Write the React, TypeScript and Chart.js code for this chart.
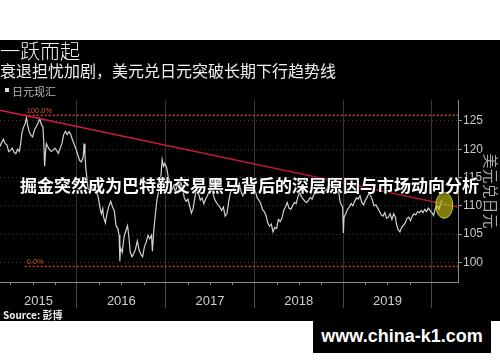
import React, { useEffect, useRef } from 'react';
import { Chart, registerables } from 'chart.js';

Chart.register(...registerables);

// ---- data (decimal year, USD/JPY) ----
const dates = [
  2015.132, 2015.15, 2015.17, 2015.19, 2015.21, 2015.23, 2015.25, 2015.27, 2015.29, 2015.31,
  2015.33, 2015.35, 2015.365, 2015.38, 2015.40, 2015.415, 2015.43, 2015.445, 2015.46, 2015.48,
  2015.50, 2015.52, 2015.54, 2015.56, 2015.58, 2015.60, 2015.615, 2015.625, 2015.635, 2015.645,
  2015.655, 2015.67, 2015.69, 2015.71, 2015.73, 2015.75, 2015.77, 2015.79, 2015.81, 2015.83,
  2015.85, 2015.87, 2015.89, 2015.91, 2015.93, 2015.95, 2015.97, 2015.99,
  2016.01, 2016.03, 2016.05, 2016.07, 2016.08, 2016.09, 2016.10, 2016.115, 2016.125, 2016.14,
  2016.16, 2016.18, 2016.20, 2016.22, 2016.24, 2016.26, 2016.275, 2016.29, 2016.30, 2016.32,
  2016.34, 2016.36, 2016.38, 2016.40, 2016.42, 2016.44, 2016.46, 2016.475, 2016.483, 2016.49,
  2016.51, 2016.53, 2016.55, 2016.57, 2016.585, 2016.60, 2016.62, 2016.64, 2016.66, 2016.68,
  2016.70, 2016.72, 2016.74, 2016.76, 2016.78, 2016.80, 2016.82, 2016.84, 2016.85, 2016.865,
  2016.88, 2016.90, 2016.92, 2016.94, 2016.96, 2016.975, 2016.99,
  2017.01, 2017.03, 2017.05, 2017.07, 2017.09, 2017.11, 2017.13, 2017.15, 2017.17, 2017.19,
  2017.21, 2017.23, 2017.25, 2017.27, 2017.29, 2017.31, 2017.33, 2017.35, 2017.37, 2017.39,
  2017.41, 2017.43, 2017.45, 2017.47, 2017.49, 2017.51, 2017.53, 2017.55, 2017.57, 2017.59,
  2017.61, 2017.63, 2017.65, 2017.67, 2017.69, 2017.71, 2017.73, 2017.75, 2017.77, 2017.79,
  2017.81, 2017.83, 2017.85, 2017.87, 2017.89, 2017.91, 2017.93, 2017.95, 2017.97, 2017.99,
  2018.01, 2018.03, 2018.05, 2018.07, 2018.09, 2018.11, 2018.13, 2018.15, 2018.17, 2018.19,
  2018.21, 2018.23, 2018.25, 2018.27, 2018.29, 2018.31, 2018.33, 2018.35, 2018.37, 2018.39,
  2018.41, 2018.43, 2018.45, 2018.47, 2018.49, 2018.51, 2018.53, 2018.55, 2018.57, 2018.59,
  2018.61, 2018.63, 2018.65, 2018.67, 2018.69, 2018.71, 2018.73, 2018.75, 2018.77, 2018.79,
  2018.81, 2018.83, 2018.85, 2018.87, 2018.89, 2018.91, 2018.93, 2018.95, 2018.965, 2018.98,
  2018.995, 2019.003, 2019.01, 2019.03, 2019.05, 2019.07, 2019.09, 2019.11, 2019.13, 2019.15,
  2019.17, 2019.19, 2019.21, 2019.23, 2019.25, 2019.27, 2019.29, 2019.31, 2019.33, 2019.35,
  2019.37, 2019.39, 2019.41, 2019.43, 2019.45, 2019.47, 2019.49, 2019.51, 2019.53, 2019.55,
  2019.57, 2019.59, 2019.60, 2019.62, 2019.64, 2019.66, 2019.68, 2019.70, 2019.72, 2019.74,
  2019.76, 2019.78, 2019.80, 2019.82, 2019.84, 2019.86, 2019.88, 2019.90, 2019.92, 2019.94,
  2019.96, 2019.98, 2020.00, 2020.02, 2020.04, 2020.06, 2020.08, 2020.10, 2020.11,
];

const usdJpy = [
  120.5, 121.2, 121.8, 121.0, 120.8, 119.6, 119.8, 120.2, 119.5, 119.2,
  120.0, 119.6, 121.0, 123.0, 124.0, 124.5, 125.6, 124.2, 123.2, 122.5,
  122.2, 123.4, 124.0, 124.6, 125.4, 124.3, 124.0, 121.5, 117.0, 119.5,
  121.0, 120.5, 120.0, 119.6, 119.8, 120.2, 119.8, 119.3, 120.2, 121.0,
  122.6, 123.2, 122.6, 123.1, 122.6, 121.6, 120.8, 120.0,
  119.0, 118.0, 117.8, 118.6, 121.0, 119.0, 116.5, 114.5, 113.0, 112.8,
  113.5, 112.8, 113.5, 112.5, 111.5, 109.5, 108.6, 109.5, 108.0, 107.0,
  108.8, 110.0, 110.8, 109.8, 109.2, 106.5, 106.0, 104.8, 100.2, 102.6,
  101.8, 104.5, 105.6, 106.5, 104.5, 101.8, 101.0, 101.6, 102.4, 103.8,
  102.2, 101.4, 101.0, 102.8, 103.6, 104.8, 104.2, 104.8, 102.0, 105.5,
  108.0, 111.0, 112.5, 114.0, 118.2, 117.0, 117.5,
  116.8, 115.0, 114.2, 112.8, 113.6, 112.4, 113.8, 113.0, 114.2, 113.0,
  111.4, 110.8, 111.2, 110.0, 108.7, 109.6, 111.6, 113.4, 112.2, 111.0,
  111.4, 110.4, 111.2, 111.8, 112.6, 113.4, 112.4, 111.2, 110.6, 110.2,
  109.8, 109.2, 109.8, 108.2, 108.6, 110.8, 112.4, 112.8, 113.2, 113.8,
  113.5, 114.0, 112.5, 111.8, 112.6, 112.8, 113.3, 113.0, 112.7, 113.0,
  112.6, 111.5, 111.0, 110.5, 109.4, 109.0, 108.3, 107.0, 106.4, 106.8,
  105.4, 106.2, 106.0, 107.6, 107.2, 107.8, 109.2, 109.8, 110.6, 109.6,
  109.4, 110.0, 110.6, 110.4, 111.6, 112.4, 111.6, 111.2, 110.8, 110.6,
  111.0, 111.5, 111.2, 112.0, 112.4, 113.0, 113.6, 113.8, 112.4, 112.6,
  112.8, 113.4, 113.8, 113.4, 113.6, 113.0, 112.4, 112.6, 110.8, 110.2,
  109.8, 105.2, 108.0, 108.6, 109.4, 109.8, 110.4, 110.0, 110.8, 111.4,
  111.2, 111.8, 110.6, 110.2, 111.0, 111.5, 112.2, 111.8, 111.0, 110.0,
  110.2, 109.6, 109.0, 108.4, 108.2, 108.8, 107.8, 108.0, 108.6, 107.6,
  108.6, 108.0, 106.8, 105.8, 105.4, 106.2, 106.6, 107.0, 107.8, 108.0,
  107.4, 108.2, 108.6, 108.4, 109.0, 108.8, 109.2, 108.8, 109.4, 109.0,
  109.6, 109.2, 108.8, 108.3, 109.6, 110.0, 109.4, 110.4, 111.0,
];

const trendDates = [2015.132, 2020.295];
const trendValues = [126.9, 109.8];

const fibStartDate = 2015.41;
const fibEndDate = 2020.295;
const fibLevels = [126.0, 99.3];
const fibLabels = ['100.0%', '0.0%'];

const yTicks = [100, 105, 110, 115, 120, 125];
const yearBoundaries = [2016, 2017, 2018, 2019, 2020];
const yearLabels = ['2015', '2016', '2017', '2018', '2019'];
const quarterTicks = [
  2015.25, 2015.5, 2015.75, 2016.25, 2016.5, 2016.75, 2017.25, 2017.5, 2017.75,
  2018.25, 2018.5, 2018.75, 2019.25, 2019.5, 2019.75,
];

const highlightDate = 2020.14;
const highlightValue = 110.1;

const X_MIN = 2015.132;
const X_MAX = 2020.295;
const Y_MIN = 96.55;
const Y_MAX = 128.71;

const decorPlugin = {
  id: 'decor',
  afterDatasetsDraw(chart: any) {
    const { ctx, scales } = chart;
    const x = scales.x;
    const y = scales.y;
    ctx.save();
    ctx.font = '7.5px "Liberation Sans", Arial, sans-serif';
    ctx.fillStyle = '#d2552c';
    ctx.textAlign = 'left';
    ctx.textBaseline = 'bottom';
    fibLevels.forEach((lvl, i) => {
      ctx.fillText(fibLabels[i], x.getPixelForValue(fibStartDate) + 2, y.getPixelForValue(lvl) - 1);
    });
    ctx.beginPath();
    ctx.ellipse(x.getPixelForValue(highlightDate), y.getPixelForValue(highlightValue), 8.5, 13, 0, 0, Math.PI * 2);
    ctx.fillStyle = 'rgba(200, 200, 20, 0.62)';
    ctx.fill();
    ctx.strokeStyle = 'rgba(230, 230, 40, 0.85)';
    ctx.lineWidth = 1;
    ctx.stroke();
    ctx.restore();
  },
  afterDraw(chart: any) {
    const { ctx, chartArea, scales } = chart;
    const x = scales.x;
    ctx.save();
    ctx.strokeStyle = '#8a8a8a';
    ctx.lineWidth = 1;
    quarterTicks.forEach((q) => {
      const px = Math.round(x.getPixelForValue(q)) + 0.5;
      ctx.beginPath();
      ctx.moveTo(px, chartArea.bottom);
      ctx.lineTo(px, chartArea.bottom + 3);
      ctx.stroke();
    });
    ctx.font = '13px "Liberation Sans", Arial, sans-serif';
    ctx.fillStyle = '#cfcfcf';
    ctx.textAlign = 'center';
    ctx.textBaseline = 'middle';
    yearLabels.forEach((lab) => {
      const yr = Number(lab);
      const a = Math.max(yr, X_MIN);
      const b = Math.min(yr + 1, X_MAX);
      ctx.fillText(lab, x.getPixelForValue((a + b) / 2), chartArea.bottom + 19);
    });
    ctx.restore();
  },
};

export default function App() {
  const ref = useRef<HTMLCanvasElement | null>(null);

  useEffect(() => {
    if (!ref.current) return;
    const priceData = dates.map((d, i) => ({ x: d, y: usdJpy[i] }));
    const trendData = trendDates.map((d, i) => ({ x: d, y: trendValues[i] }));
    const fibSets = fibLevels.map((lvl) => ({
      label: 'fib',
      data: [
        { x: fibStartDate, y: lvl },
        { x: fibEndDate, y: lvl },
      ],
      borderColor: '#c9451f',
      borderWidth: 1.5,
      borderDash: [2, 2],
      pointRadius: 0,
      order: 3,
    }));
    const chart = new Chart(ref.current, {
      type: 'line',
      data: {
        datasets: [
          {
            label: 'trend',
            data: trendData,
            borderColor: (c: any) => {
              const area = c.chart.chartArea;
              if (!area) return '#c81a40';
              const g = c.chart.ctx.createLinearGradient(area.left, 0, area.right, 0);
              g.addColorStop(0, '#d81e48');
              g.addColorStop(1, '#a3142e');
              return g;
            },
            borderWidth: 1.6,
            pointRadius: 0,
            order: 0,
          },
          {
            label: '日元现汇',
            data: priceData,
            borderColor: '#d2d2d2',
            borderWidth: 1.2,
            pointRadius: 0,
            tension: 0,
            order: 1,
          },
          ...fibSets,
        ] as any,
      },
      options: {
        animation: false,
        responsive: false,
        maintainAspectRatio: false,
        layout: { padding: { top: 60, bottom: 13, left: 0, right: 0 } },
        plugins: { legend: { display: false }, tooltip: { enabled: false }, title: { display: false } },
        scales: {
          x: {
            type: 'linear',
            min: X_MIN,
            max: X_MAX,
            afterBuildTicks: (s: any) => {
              s.ticks = yearBoundaries.map((v) => ({ value: v }));
            },
            grid: { color: '#363636', lineWidth: 1, drawTicks: true, tickLength: 26, tickColor: '#4a4a4a' },
            border: { display: true, color: '#8a8a8a', width: 1 },
            ticks: { display: false },
          },
          y: {
            type: 'linear',
            position: 'right',
            min: Y_MIN,
            max: Y_MAX,
            afterBuildTicks: (s: any) => {
              s.ticks = yTicks.map((v) => ({ value: v }));
            },
            afterFit: (s: any) => {
              s.width = 42;
            },
            grid: { color: '#3c3c3c', lineWidth: 1, tickLength: 4, tickColor: '#9a9a9a', tickBorderDash: [] },
            border: { display: true, color: '#8a8a8a', width: 1, dash: [1, 3] },
            ticks: {
              color: '#c8c8c8',
              padding: 1,
              font: { family: '"Liberation Sans", Arial, sans-serif', size: 12 },
            },
            title: {
              display: true,
              text: '美元兑日元',
              color: '#a8a8a8',
              padding: 0,
              font: { family: '"Noto Sans CJK SC", sans-serif', size: 15 },
            },
          },
        },
      } as any,
      plugins: [decorPlugin],
    });
    return () => chart.destroy();
  }, []);

  const cjk = '"Noto Sans CJK SC", "Noto Sans", sans-serif';

  return (
    <div style={{ position: 'fixed', left: 0, top: 0, width: 500, height: 362, background: '#fff', overflow: 'hidden' }}>
      <div style={{ position: 'absolute', left: 0, top: 40, width: 500, height: 281, background: '#000' }}>
        <canvas ref={ref} width={500} height={281} style={{ display: 'block', width: 500, height: 281 }} />
      </div>
      <div style={{ position: 'absolute', left: 0, top: 41, fontFamily: cjk, fontSize: 20, lineHeight: '20px', fontWeight: 300, color: '#f2f2f2', whiteSpace: 'nowrap' }}>
        一跃而起
      </div>
      <div style={{ position: 'absolute', left: 0, top: 62, fontFamily: cjk, fontSize: 16, lineHeight: '16px', color: '#f0f0f0', whiteSpace: 'nowrap' }}>
        衰退担忧加剧，美元兑日元突破长期下行趋势线
      </div>
      <div style={{ position: 'absolute', left: 5, top: 88, width: 4, height: 4, background: '#dddddd' }} />
      <div style={{ position: 'absolute', left: 12, top: 86, fontFamily: cjk, fontSize: 11, lineHeight: '11px', color: '#b8b8b8', whiteSpace: 'nowrap' }}>
        日元现汇
      </div>
      <div style={{ position: 'absolute', left: 3, top: 309, fontFamily: cjk, fontSize: 10, lineHeight: '11px', fontWeight: 700, color: '#f2f2f2', whiteSpace: 'nowrap' }}>
        Source: 彭博
      </div>
      <div style={{ position: 'absolute', left: 20, top: 176, fontFamily: cjk, fontSize: 17, lineHeight: '17px', fontWeight: 700, color: '#ffffff', whiteSpace: 'nowrap', textShadow: '0 0 2px #000, 0 0 1px #000' }}>
        掘金突然成为巴特勒交易黑马背后的深层原因与市场动向分析
      </div>
      <div style={{ position: 'absolute', left: 313, top: 320, width: 178, height: 33, background: '#000', color: '#fff', fontFamily: '"Liberation Sans", Arial, sans-serif', fontWeight: 700, fontSize: 18, lineHeight: '33px', textAlign: 'center', whiteSpace: 'nowrap' }}>
        www.china-k1.com
      </div>
    </div>
  );
}
